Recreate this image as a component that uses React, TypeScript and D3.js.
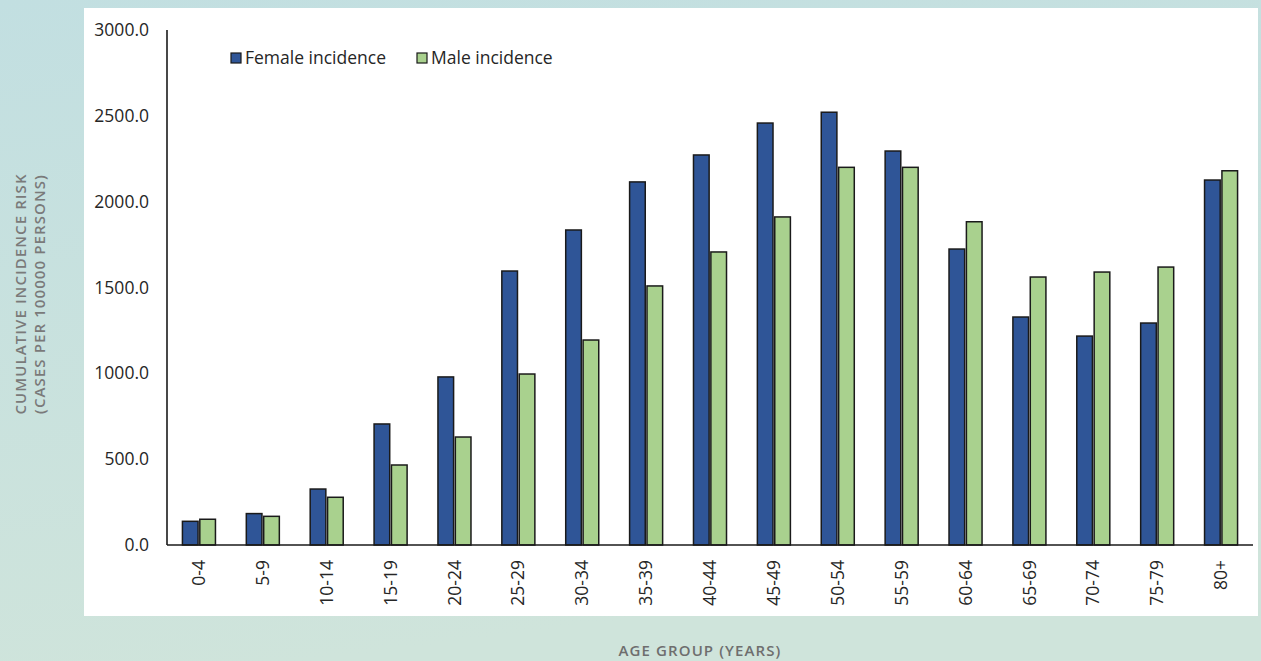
import React from "react";
import * as d3 from "d3";

// Age groups and cumulative incidence risk (cases per 100000 persons)
const ageGroups = ["0-4", "5-9", "10-14", "15-19", "20-24", "25-29", "30-34", "35-39", "40-44", "45-49", "50-54", "55-59", "60-64", "65-69", "70-74", "75-79", "80+"];
const femaleIncidence = [138, 183, 326, 705, 979, 1596, 1835, 2115, 2272, 2458, 2521, 2295, 1724, 1328, 1217, 1293, 2126];
const maleIncidence = [150, 167, 278, 466, 629, 996, 1194, 1509, 1707, 1911, 2200, 2200, 1883, 1561, 1590, 1619, 2180];
const yTicks = [0, 500, 1000, 1500, 2000, 2500, 3000];
const seriesNames = ["Female incidence", "Male incidence"];

const W = 1261;
const H = 661;
const FEMALE = "#2F5597";
const MALE = "#A9D18E";
const FONT = "'Open Sans', 'Noto Sans', sans-serif";
const TITLE_FONT = "'Open Sans', 'Noto Sans', sans-serif";

export default function App() {
  const x0 = 167;
  const x1 = 1253;
  const yTop = 30;
  const yBase = 545;

  const x = d3.scaleBand<string>().domain(ageGroups).range([x0, x1]).paddingInner(0.483).paddingOuter(0.2415);
  const sub = d3.scaleBand<string>().domain(["f", "m"]).range([0, x.bandwidth()]).paddingInner(0.1);
  const y = d3.scaleLinear().domain([0, 3000]).range([yBase, yTop]);
  const fmt = d3.format(".1f");

  return (
    <div style={{ position: "absolute", left: 0, top: 0, width: W, height: H }}>
      <svg width={W} height={H} style={{ display: "block" }}>
        <defs>
          <linearGradient id="bg" x1="0" y1="0" x2="0.25" y2="1">
            <stop offset="0" stopColor="#c2dfe1" />
            <stop offset="1" stopColor="#cfe4db" />
          </linearGradient>
        </defs>
        <rect x={0} y={0} width={W} height={H} fill="url(#bg)" />
        <rect x={84} y={8} width={1174} height={608} fill="#ffffff" />

        {/* y tick labels */}
        {yTicks.map((t) => (
          <text key={t} x={149} y={y(t)} dy="0.35em" textAnchor="end" fontFamily={FONT} fontSize={17.5} fill="#262626">
            {fmt(t)}
          </text>
        ))}

        {/* bars */}
        {ageGroups.map((g, i) => (
          <g key={g} transform={`translate(${x(g)},0)`}>
            <rect x={sub("f")} y={y(femaleIncidence[i])} width={sub.bandwidth()} height={yBase - y(femaleIncidence[i])} fill={FEMALE} stroke="#1a1a1a" strokeWidth={1.5} />
            <rect x={sub("m")} y={y(maleIncidence[i])} width={sub.bandwidth()} height={yBase - y(maleIncidence[i])} fill={MALE} stroke="#1a1a1a" strokeWidth={1.5} />
          </g>
        ))}

        {/* axes */}
        <line x1={x0} x2={x0} y1={yTop} y2={yBase} stroke="#1a1a1a" strokeWidth={1.6} />
        <line x1={x0} x2={x1} y1={yBase} y2={yBase} stroke="#1a1a1a" strokeWidth={1.6} />

        {/* category labels */}
        {ageGroups.map((g) => {
          const cx = (x(g) as number) + x.bandwidth() / 2;
          return (
            <text key={g} transform={`translate(${cx},560) rotate(-90)`} textAnchor="end" dy="0.35em" fontFamily={FONT} fontSize={17.5} fill="#262626">
              {g}
            </text>
          );
        })}

        {/* legend */}
        <rect x={231} y={53} width={10} height={10} fill={FEMALE} stroke="#1a1a1a" strokeWidth={1.2} />
        <text x={245} y={58} dy="0.35em" fontFamily={FONT} fontSize={17.5} fill="#262626">{seriesNames[0]}</text>
        <rect x={417} y={53} width={10} height={10} fill={MALE} stroke="#1a1a1a" strokeWidth={1.2} />
        <text x={431} y={58} dy="0.35em" fontFamily={FONT} fontSize={17.5} fill="#262626">{seriesNames[1]}</text>

        {/* axis titles */}
        <text transform="translate(21,294) rotate(-90)" textAnchor="middle" dy="0.35em" fontFamily={TITLE_FONT} fontSize={15} letterSpacing={1.1} fill="#7a7a7a" fontWeight={600}>
          CUMULATIVE  INCIDENCE RISK
        </text>
        <text transform="translate(40,294) rotate(-90)" textAnchor="middle" dy="0.35em" fontFamily={TITLE_FONT} fontSize={15} letterSpacing={1.1} fill="#7a7a7a" fontWeight={600}>
          (CASES PER 100000 PERSONS)
        </text>
        <text x={700} y={651} textAnchor="middle" dy="0.35em" fontFamily={TITLE_FONT} fontSize={15} letterSpacing={1.1} fill="#6e6e6e" fontWeight={600}>
          AGE GROUP (YEARS)
        </text>
      </svg>
    </div>
  );
}
